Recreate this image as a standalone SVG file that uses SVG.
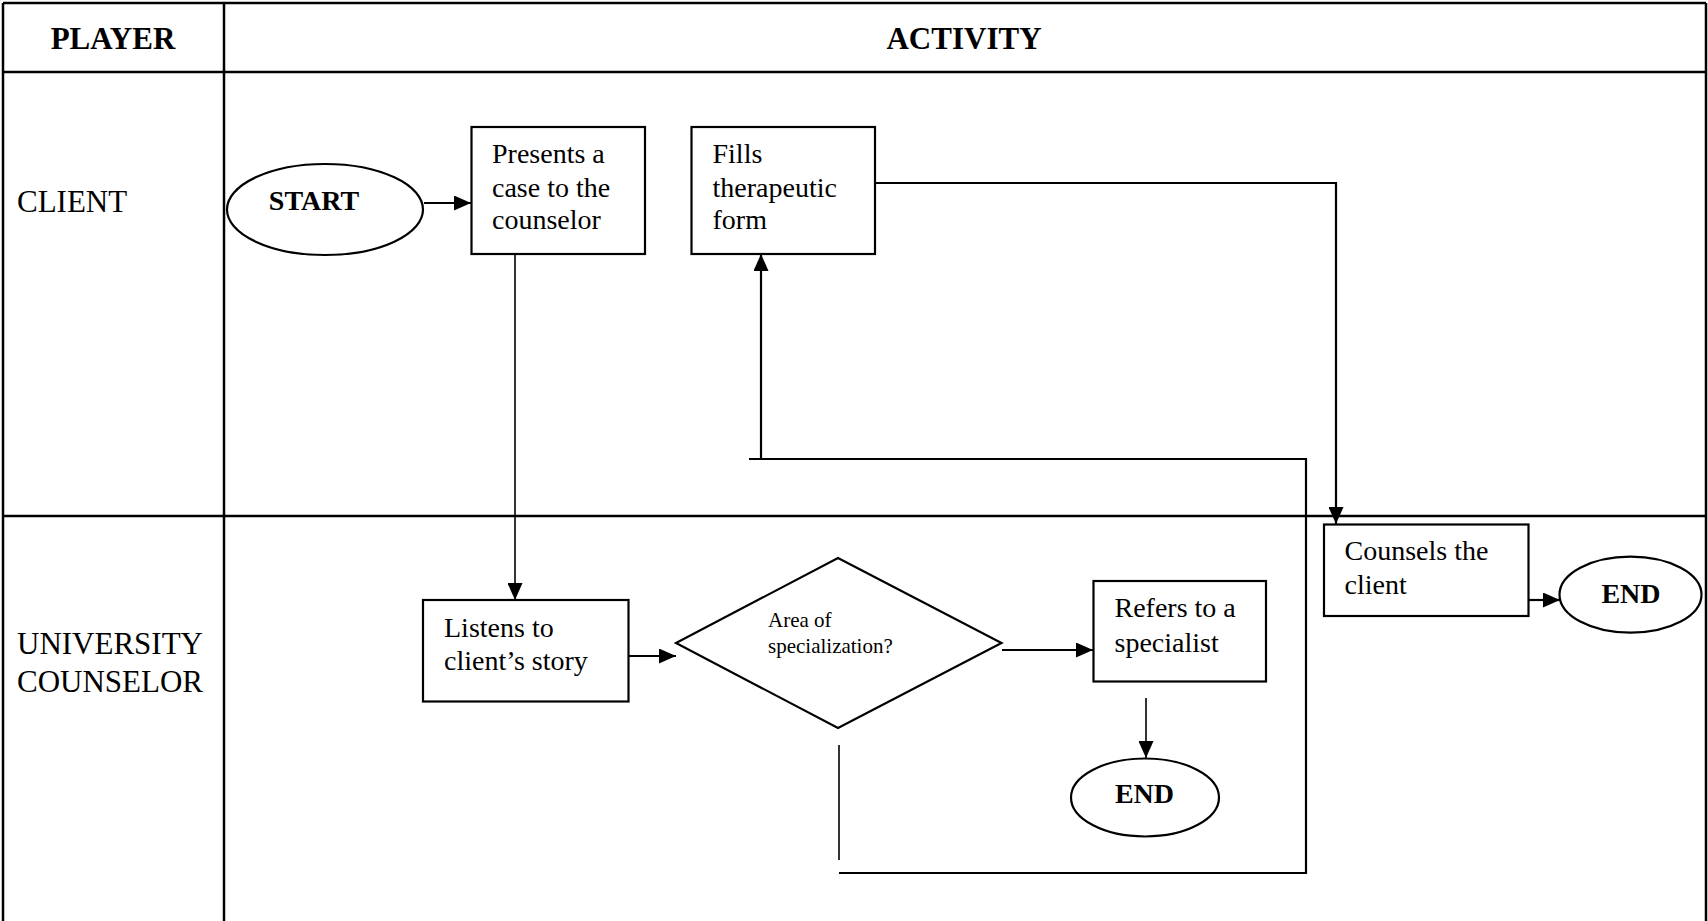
<svg xmlns="http://www.w3.org/2000/svg" width="1708" height="921" viewBox="0 0 1708 921">
<style>
.grid{stroke:#000;stroke-width:2.5;fill:none}
.box{fill:#fff;stroke:#000;stroke-width:2.2}
.conn{stroke:#000;stroke-width:2.2;fill:none}
.thin{stroke:#000;stroke-width:1.6;fill:none}
.hd{font-family:"Liberation Serif",serif;font-size:31px;font-weight:bold;fill:#000}
.lane{font-family:"Liberation Serif",serif;font-size:31px;fill:#000}
.t{font-family:"Liberation Serif",serif;font-size:28px;fill:#000}
.ts{font-family:"Liberation Serif",serif;font-size:21px;fill:#000}
.tb{font-family:"Liberation Serif",serif;font-size:28px;font-weight:bold;fill:#000}
</style>
<defs>
<marker id="arr" markerWidth="17" markerHeight="15" refX="17" refY="7.5" orient="auto" markerUnits="userSpaceOnUse">
<path d="M0,0 L17,7.5 L0,15 z" fill="#000"/>
</marker>
</defs>
<rect width="1708" height="921" fill="#fff"/>
<g id="table">
<line class="grid" x1="3" y1="3" x2="1706" y2="3"/>
<line class="grid" x1="3" y1="3" x2="3" y2="921"/>
<line class="grid" x1="1706" y1="3" x2="1706" y2="921"/>
<line class="grid" x1="224" y1="3" x2="224" y2="921"/>
<line class="grid" x1="3" y1="72" x2="1706" y2="72"/>
<line class="grid" x1="3" y1="516" x2="1706" y2="516"/>
<text class="hd" x="113" y="49" text-anchor="middle">PLAYER</text>
<text class="hd" x="964" y="49" text-anchor="middle">ACTIVITY</text>
<text class="lane" x="17" y="212">CLIENT</text>
<text class="lane" x="17" y="654">UNIVERSITY</text>
<text class="lane" x="17" y="692">COUNSELOR</text>
</g>
<g id="connectors">
<line class="conn" x1="424" y1="203" x2="471" y2="203" marker-end="url(#arr)"/>
<line class="thin" x1="515" y1="254" x2="515" y2="600" marker-end="url(#arr)"/>
<line class="conn" x1="629" y1="656" x2="676" y2="656" marker-end="url(#arr)"/>
<line class="conn" x1="1002" y1="650" x2="1093" y2="650" marker-end="url(#arr)"/>
<line class="thin" x1="1146" y1="698" x2="1146" y2="758" marker-end="url(#arr)"/>
<line class="thin" x1="839" y1="745" x2="839" y2="860"/>
<polyline class="conn" points="839,873 1306,873 1306,459 749,459"/>
<line class="conn" x1="761" y1="459" x2="761" y2="254" marker-end="url(#arr)"/>
<polyline class="conn" points="875,183 1336,183 1336,524" marker-end="url(#arr)"/>
<line class="conn" x1="1528" y1="600" x2="1560" y2="600" marker-end="url(#arr)"/>
</g>
<g id="start">
<ellipse class="box" cx="325" cy="209.5" rx="98" ry="45.5"/>
<text class="tb" x="314" y="210" text-anchor="middle" font-size="27">START</text>
</g>
<g id="presents">
<rect class="box" x="471.5" y="127" width="173.5" height="127"/>
<text class="t" x="492" y="163">Presents a</text>
<text class="t" x="492" y="196.5">case to the</text>
<text class="t" x="492" y="229">counselor</text>
</g>
<g id="fills">
<rect class="box" x="691.5" y="127" width="183.5" height="127"/>
<text class="t" x="712.5" y="163">Fills</text>
<text class="t" x="712.5" y="196.5">therapeutic</text>
<text class="t" x="712.5" y="229">form</text>
</g>
<g id="listens">
<rect class="box" x="423" y="600" width="205.5" height="101.5"/>
<text class="t" x="444" y="636.5">Listens to</text>
<text class="t" x="444" y="670">client’s story</text>
</g>
<g id="decision">
<polygon class="box" points="838,558 1001.5,643 838,728 676,643"/>
<text class="ts" x="768" y="626.5">Area of</text>
<text class="ts" x="768" y="653">specialization?</text>
</g>
<g id="refers">
<rect class="box" x="1093.5" y="581" width="172.5" height="100.5"/>
<text class="t" x="1114.5" y="616.5">Refers to a</text>
<text class="t" x="1114.5" y="651.5">specialist</text>
</g>
<g id="end1">
<ellipse class="box" cx="1145" cy="797.5" rx="74" ry="39"/>
<text class="tb" x="1144.5" y="803" text-anchor="middle">END</text>
</g>
<g id="counsels">
<rect class="box" x="1324" y="524.5" width="204.5" height="91.5"/>
<text class="t" x="1344.5" y="560">Counsels the</text>
<text class="t" x="1344.5" y="594">client</text>
</g>
<g id="end2">
<ellipse class="box" cx="1630.5" cy="594.7" rx="71" ry="38"/>
<text class="tb" x="1631" y="602.5" text-anchor="middle">END</text>
</g>
</svg>
